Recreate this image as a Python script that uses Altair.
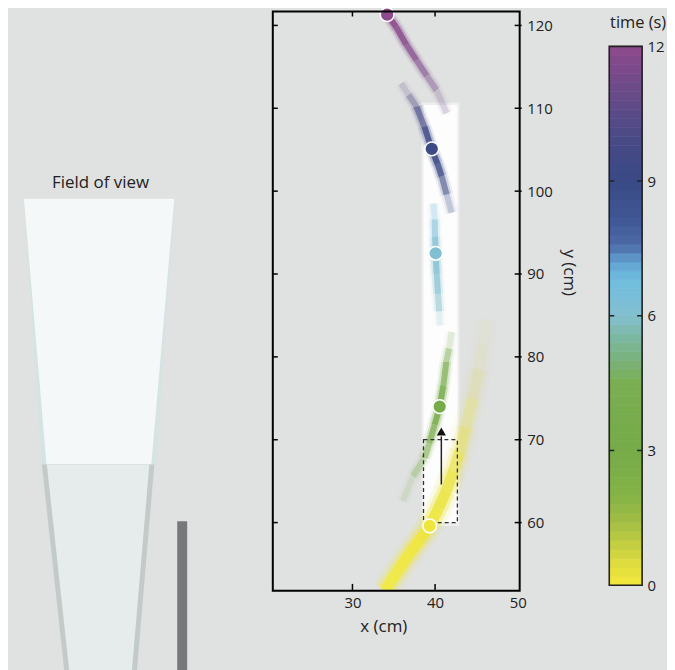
import altair as alt
import numpy as np
import pandas as pd

# ---------------- colour map (time in s) ----------------
cmap_t = [0, 0.5, 1, 1.5, 2, 3, 4.5, 5, 5.5, 6, 6.4, 6.8, 7.2, 7.6, 8.2, 9, 10, 11, 12]
cmap_c = ["#f2e93c", "#dedc3e", "#bccb42", "#9ebc44", "#84b347", "#76ab48", "#7aae52",
          "#7ab27a", "#7bb8a0", "#84bfd0", "#78bdd6", "#6fbfe0", "#62a0cf", "#4d6aa6",
          "#3f5694", "#394a86", "#4a4a86", "#6a4a88", "#8d4a8c"]
cbar_ticks = [0, 3, 6, 9, 12]

# ---------------- tracks: x (cm), y (cm), time (s), visibility ----------------
purple_x = [34.2, 35.3, 36.5, 37.75, 39.0, 40.16, 41.4]
purple_y = [121.3, 119.8, 117.7, 115.8, 113.9, 112.2, 109.4]
purple_t = [12.0, 11.9, 11.8, 11.6, 11.4, 11.2, 11.0]
purple_a = [1.0, 0.95, 0.85, 0.7, 0.5, 0.3, 0.08]

blue_x = [35.9, 36.8, 37.75, 38.7, 39.6, 40.3, 40.8, 41.4, 42.0]
blue_y = [113.0, 111.6, 110.2, 107.8, 105.0, 103.3, 101.8, 99.6, 97.4]
blue_t = [10.5, 10.2, 9.9, 9.6, 9.3, 9.2, 9.1, 9.0, 8.9]
blue_a = [0.08, 0.25, 0.5, 0.85, 1.0, 0.95, 0.75, 0.4, 0.1]

cyan_x = [39.8, 39.95, 40.0, 40.07, 40.2, 40.35, 40.5, 40.6]
cyan_y = [98.5, 96.6, 94.5, 92.5, 90.0, 87.6, 85.5, 83.8]
cyan_t = [6.6, 6.5, 6.3, 6.1, 6.0, 6.0, 5.9, 5.9]
cyan_a = [0.1, 0.4, 0.7, 0.9, 0.85, 0.65, 0.3, 0.05]

green_x = [42.0, 41.7, 41.36, 41.0, 40.56, 39.95, 39.3, 38.75, 37.34, 36.1]
green_y = [83.0, 81.0, 79.4, 76.5, 74.0, 71.8, 69.6, 67.8, 65.6, 62.6]
green_t = [4.0, 3.8, 3.6, 3.4, 3.2, 3.1, 3.0, 2.9, 2.8, 2.7]
green_a = [0.05, 0.3, 0.6, 0.85, 1.0, 0.85, 0.65, 0.45, 0.2, 0.05]

yellow_x = [33.9, 35.4, 36.9, 38.2, 39.35, 40.4, 41.36, 42.2, 42.97, 43.7, 44.57, 45.3, 45.8, 46.3]
yellow_y = [51.76, 54.0, 56.3, 58.0, 59.6, 61.7, 63.8, 66.2, 68.6, 71.5, 75.0, 78.5, 81.4, 84.5]
yellow_t = [0.0, 0.0, 0.05, 0.1, 0.1, 0.15, 0.2, 0.25, 0.3, 0.35, 0.4, 0.45, 0.5, 0.55]
yellow_a = [0.9, 0.95, 1.0, 1.0, 1.0, 0.95, 0.9, 0.75, 0.55, 0.35, 0.2, 0.12, 0.06, 0.02]

# positions at selected time points
circ_x = [39.35, 40.56, 40.07, 39.6, 34.2]
circ_y = [59.6, 74.0, 92.5, 105.1, 121.3]
circ_t = [0.1, 3.2, 6.1, 9.2, 12.0]

# field of view strip, start window and motion arrow
strip_x = [38.6, 42.7]
strip_y = [60.0, 110.4]
box_x = [38.6, 42.7]
box_y = [60.0, 70.0]
arrow_x = [40.76]
arrow_y = [64.6, 70.4]
arrow_tip = [71.0]

x_ticks = [30, 40]
x_labels = [30, 40, 50]
y_ticks = [60, 70, 80, 90, 100, 110, 120]

# schematic of the camera field of view (panel units)
fov_far_y = [188, 455]
fov_far_left = [15, 32.7]
fov_far_right = [166, 148]
fov_far_edge = [0, 5]
fov_near_y = [455, 662]
fov_near_left = [33, 55.5]
fov_near_right = [146, 128.5]
fov_near_edge = [5, 5]
post_x = [169, 179]
post_y = [512, 662]

# ---------------- layout constants ----------------
W, H = 248, 582
SW = 175
CBW = 33
BG = "#e0e1e1"
FONT = "Open Sans"
TXT = "#222222"

xsc = alt.Scale(domain=[20.36, 50.24], nice=False, zero=False)
ysc = alt.Scale(domain=[51.76, 121.68], nice=False, zero=False)
csc = alt.Scale(domain=cmap_t, range=cmap_c, interpolate="rgb")

x_axis = alt.Axis(orient="bottom", values=x_labels, ticks=False, domain=False, grid=False,
                  labelPadding=5, labelFontSize=15, title="x (cm)", titleFontSize=17,
                  titlePadding=8, titleX=111, titleFontWeight="normal")
y_axis = alt.Axis(orient="right", values=y_ticks, ticks=False, domain=False, grid=False,
                  labelPadding=7, labelFontSize=15, title="y (cm)", titleFontSize=17,
                  titleAngle=90, titlePadding=7, titleY=262, titleFontWeight="normal")


def MX(f):
    return alt.X(f"{f}:Q", scale=xsc, axis=x_axis)


def MY(f):
    return alt.Y(f"{f}:Q", scale=ysc, axis=y_axis)


def seg_rows(xs_, ys_, ts_, as_):
    rows = []
    for i in range(len(xs_) - 1):
        rows.append(dict(x=xs_[i], y=ys_[i], x2=xs_[i + 1], y2=ys_[i + 1],
                         t=(ts_[i] + ts_[i + 1]) / 2, a=(as_[i] + as_[i + 1]) / 2))
    return rows


thin_df = pd.DataFrame(seg_rows(purple_x, purple_y, purple_t, purple_a)
                       + seg_rows(blue_x, blue_y, blue_t, blue_a)
                       + seg_rows(cyan_x, cyan_y, cyan_t, cyan_a)
                       + seg_rows(green_x, green_y, green_t, green_a))
wide_df = pd.DataFrame(seg_rows(yellow_x, yellow_y, yellow_t, yellow_a))


def track_layers(df, widths, ks):
    out = []
    for w, k in zip(widths, ks):
        out.append(
            alt.Chart(df).transform_calculate(op=f"datum.a*{k}")
            .mark_rule(strokeWidth=w, strokeCap="butt", clip=True)
            .encode(x=MX("x"), y=MY("y"), x2="x2:Q", y2="y2:Q",
                    color=alt.Color("t:Q", scale=csc, legend=None),
                    opacity=alt.Opacity("op:Q", scale=None)))
    return out


one = pd.DataFrame({"k": [0]})

strip_df = pd.DataFrame({"x": [strip_x[0]], "x2": [strip_x[1]], "y": [strip_y[0]], "y2": [strip_y[1]]})
strip_outer = alt.Chart(strip_df).transform_calculate(
    xa="datum.x-0.25", xb="datum.x2+0.25", ya="datum.y-0.4", yb="datum.y2+0.3"
).mark_rect(color="white", opacity=0.45).encode(
    x=MX("xa"), x2="xb:Q", y=MY("ya"), y2="yb:Q")
strip_inner = alt.Chart(strip_df).mark_rect(color="white", opacity=0.87).encode(
    x=MX("x"), x2="x2:Q", y=MY("y"), y2="y2:Q")

box_df = pd.DataFrame({"x": [box_x[0]], "x2": [box_x[1]], "y": [box_y[0]], "y2": [box_y[1]]})
box = alt.Chart(box_df).mark_rect(filled=False, stroke="#333333", strokeWidth=1.3,
                                  strokeDash=[4, 3]).encode(
    x=MX("x"), x2="x2:Q", y=MY("y"), y2="y2:Q")

arrow_df = pd.DataFrame({"x": arrow_x, "y": [arrow_y[0]], "y2": [arrow_y[1]], "tip": arrow_tip})
shaft = alt.Chart(arrow_df).mark_rule(color="#222222", strokeWidth=1.5).encode(
    x=MX("x"), y=MY("y"), y2="y2:Q")
head = alt.Chart(arrow_df).mark_point(shape="triangle-up", filled=True, size=85,
                                      color="#111111", opacity=1).encode(
    x=MX("x"), y=MY("tip"))

circ_df = pd.DataFrame({"x": circ_x, "y": circ_y, "t": circ_t})
circles = alt.Chart(circ_df).mark_circle(size=190, stroke="white", strokeWidth=1.5,
                                         opacity=1).encode(
    x=MX("x"), y=MY("y"), color=alt.Color("t:Q", scale=csc, legend=None))

ytk = pd.DataFrame({"v": y_ticks})
xtk = pd.DataFrame({"v": x_ticks})
tick_style = dict(color="black", strokeWidth=1.5)
left_ticks = alt.Chart(ytk).mark_rule(**tick_style).encode(
    y=MY("v"), x=alt.value(0), x2=alt.value(5))
right_ticks = alt.Chart(ytk).mark_rule(**tick_style).encode(
    y=MY("v"), x=alt.value(W - 5), x2=alt.value(W + 2))
bottom_ticks = alt.Chart(xtk).mark_rule(**tick_style).encode(
    x=MX("v"), y=alt.value(H - 7), y2=alt.value(H))
top_ticks = alt.Chart(xtk).mark_rule(**tick_style).encode(
    x=MX("v"), y=alt.value(0), y2=alt.value(5))
frame = alt.Chart(one).mark_rect(filled=False, stroke="black", strokeWidth=2).encode(
    x=alt.value(0), x2=alt.value(W), y=alt.value(0), y2=alt.value(H))

main = alt.layer(
    strip_outer, strip_inner,
    *track_layers(thin_df, [14, 10, 6], [0.12, 0.3, 0.9]),
    *track_layers(wide_df, [26, 18, 11], [0.15, 0.35, 0.9]),
    box, shaft, head, circles,
    left_ticks, right_ticks, bottom_ticks, top_ticks, frame
).properties(width=W, height=H)

# ---------------- colour bar ----------------
cb_y = alt.Scale(domain=[-0.126, 12.776], nice=False, zero=False)
cb_axis = alt.Axis(orient="right", values=cbar_ticks, ticks=False, domain=False, grid=False,
                   labelPadding=5, labelFontSize=15, title=None)


def CY(f):
    return alt.Y(f"{f}:Q", scale=cb_y, axis=cb_axis)


step = 0.2
cb_t0 = np.round(np.arange(cbar_ticks[0], cbar_ticks[-1], step), 3)
cb_df = pd.DataFrame({"t0": cb_t0, "t1": cb_t0 + step, "tm": cb_t0 + step / 2})
bands = alt.Chart(cb_df).mark_rect(strokeWidth=0.6).encode(
    y=CY("t0"), y2="t1:Q", x=alt.value(0), x2=alt.value(CBW),
    color=alt.Color("tm:Q", scale=csc, legend=None),
    stroke=alt.Stroke("tm:Q", scale=csc, legend=None))
cb_frame_df = pd.DataFrame({"a": [cbar_ticks[0]], "b": [cbar_ticks[-1]]})
cb_frame = alt.Chart(cb_frame_df).mark_rect(filled=False, stroke="#222222",
                                           strokeWidth=1.6).encode(
    y=CY("a"), y2="b:Q", x=alt.value(0), x2=alt.value(CBW))
cbt = pd.DataFrame({"v": cbar_ticks[1:-1]})
cb_tl = alt.Chart(cbt).mark_rule(color="#222222", strokeWidth=1.5).encode(
    y=CY("v"), x=alt.value(0), x2=alt.value(5))
cb_tr = alt.Chart(cbt).mark_rule(color="#222222", strokeWidth=1.5).encode(
    y=CY("v"), x=alt.value(CBW - 5), x2=alt.value(CBW))
cb_title = alt.Chart(pd.DataFrame({"y": [12.53], "label": ["time (s)"]})).mark_text(
    fontSize=16.5, color=TXT, font=FONT, baseline="middle", align="center").encode(
    y=CY("y"), x=alt.value(29), text="label:N")
cbar = alt.layer(bands, cb_frame, cb_tl, cb_tr, cb_title).properties(width=CBW, height=H)

# ---------------- schematic ----------------
sx = alt.Scale(domain=[0, SW], nice=False, zero=False)
sy = alt.Scale(domain=[0, H], nice=False, zero=False, reverse=True)


def trapezoid(ys_, left, right, inset, color):
    d = pd.DataFrame({"y": ys_, "l": [v + e for v, e in zip(left, inset)],
                      "r": [v - e for v, e in zip(right, inset)]})
    return alt.Chart(d).mark_area(orient="horizontal", color=color, opacity=1).encode(
        y=alt.Y("y:Q", scale=sy, axis=None),
        x=alt.X("l:Q", scale=sx, axis=None), x2="r:Q")


post_df = pd.DataFrame({"x": [post_x[0]], "x2": [post_x[1]], "y": [post_y[0]], "y2": [post_y[1]]})
post = alt.Chart(post_df).mark_rect(color="#76787a").encode(
    x=alt.X("x:Q", scale=sx, axis=None), x2="x2:Q",
    y=alt.Y("y:Q", scale=sy, axis=None), y2="y2:Q")
fov_label = alt.Chart(pd.DataFrame({"x": [92], "y": [172.5], "label": ["Field of view"]})).mark_text(
    fontSize=17, color=TXT, font=FONT, baseline="middle", align="center").encode(
    x=alt.X("x:Q", scale=sx, axis=None), y=alt.Y("y:Q", scale=sy, axis=None), text="label:N")

schem = alt.layer(
    trapezoid(fov_far_y, fov_far_left, fov_far_right, [0, 0], "#d6e3e3"),
    trapezoid(fov_far_y, fov_far_left, fov_far_right, fov_far_edge, "#f4f8f8"),
    trapezoid(fov_near_y, fov_near_left, fov_near_right, [0, 0], "#c3caca"),
    trapezoid(fov_near_y, fov_near_left, fov_near_right, fov_near_edge, "#e6ebeb"),
    post, fov_label
).properties(width=SW, height=H)

chart = alt.hconcat(schem, main, cbar, spacing=90, bounds="flush").properties(
    background=BG, padding={"left": 0, "top": -6, "right": 0, "bottom": 0}
).configure_view(stroke="transparent").configure_axis(
    labelFont=FONT, titleFont=FONT, labelColor=TXT, titleColor=TXT
)

chart.save("out.html", embed_options={"renderer": "svg", "actions": False})
